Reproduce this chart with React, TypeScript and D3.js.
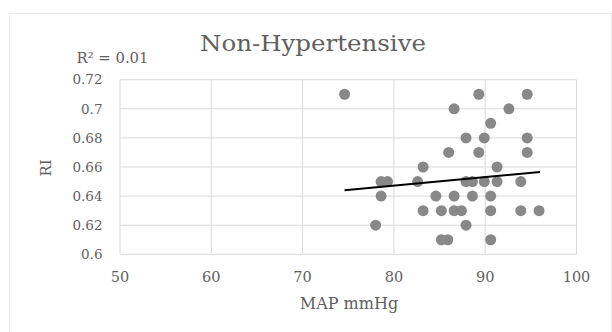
import React from "react";
import * as d3 from "d3";

const mapValues = [
  74.6, 89.3, 94.6, 86.6, 92.6, 90.6, 87.9, 89.9, 94.6, 86.0, 89.3, 94.6,
  83.2, 91.3, 78.6, 79.3, 82.6, 87.9, 88.6, 89.9, 91.3, 93.9, 78.6, 84.6,
  86.6, 88.6, 90.6, 83.2, 85.2, 86.6, 87.4, 90.6, 93.9, 95.9, 78.0, 87.9,
  85.2, 85.9, 90.6,
];
const riValues = [
  0.71, 0.71, 0.71, 0.7, 0.7, 0.69, 0.68, 0.68, 0.68, 0.67, 0.67, 0.67,
  0.66, 0.66, 0.65, 0.65, 0.65, 0.65, 0.65, 0.65, 0.65, 0.65, 0.64, 0.64,
  0.64, 0.64, 0.64, 0.63, 0.63, 0.63, 0.63, 0.63, 0.63, 0.63, 0.62, 0.62,
  0.61, 0.61, 0.61,
];
const trendX = [74.6, 96.0];
const trendY = [0.6441, 0.6566];
const xTicks = [50, 60, 70, 80, 90, 100];
const yTicks = [0.6, 0.62, 0.64, 0.66, 0.68, 0.7, 0.72];
const yTickLabels = ["0.6", "0.62", "0.64", "0.66", "0.68", "0.7", "0.72"];
const title = "Non-Hypertensive";
const rSquaredLabel = "R² = 0.01";
const xTitle = "MAP mmHg";
const yTitle = "RI";

const W = 612;
const H = 332;
const plot = { left: 120, right: 576.5, top: 79.7, bottom: 254.3 };
const serif = "'DejaVu Serif', serif";
const textColor = "#606060";

export default function App() {
  const x = d3.scaleLinear().domain([50, 100]).range([plot.left, plot.right]);
  const y = d3.scaleLinear().domain([0.6, 0.72]).range([plot.bottom, plot.top]);

  const trend: [number, number][] = trendX.map((v, i) => [v, trendY[i]]);
  const line = d3
    .line<[number, number]>()
    .x((d) => x(d[0]))
    .y((d) => y(d[1]));

  return (
    <svg
      width={W}
      height={H}
      style={{ position: "absolute", left: 0, top: 0, background: "#fff" }}
    >
      <rect x={9.5} y={13.5} width={602} height={340} fill="#fff" stroke="#ebebeb" />
      {yTicks.map((t) => (
        <line
          key={"gy" + t}
          x1={plot.left}
          x2={plot.right}
          y1={y(t)}
          y2={y(t)}
          stroke="#d9d9d9"
          strokeWidth={1}
        />
      ))}
      {xTicks.map((t) => (
        <line
          key={"gx" + t}
          x1={x(t)}
          x2={x(t)}
          y1={plot.top}
          y2={plot.bottom}
          stroke="#d9d9d9"
          strokeWidth={1}
        />
      ))}
      {mapValues.map((v, i) => (
        <circle key={i} cx={x(v)} cy={y(riValues[i])} r={5.5} fill="#888888" />
      ))}
      <path d={line(trend) || ""} stroke="#000" strokeWidth={2} fill="none" />
      {yTicks.map((t, i) => (
        <text
          key={"ty" + t}
          x={102.5}
          y={y(t)}
          dy="0.35em"
          textAnchor="end"
          fontFamily={serif}
          fontSize={13.5}
          fill={textColor}
        >
          {yTickLabels[i]}
        </text>
      ))}
      {xTicks.map((t) => (
        <text
          key={"tx" + t}
          x={x(t)}
          y={281.5}
          textAnchor="middle"
          fontFamily={serif}
          fontSize={14.5}
          fill={textColor}
        >
          {t}
        </text>
      ))}
      <text
        x={200}
        y={51}
        textLength={226}
        lengthAdjust="spacingAndGlyphs"
        fontFamily={serif}
        fontSize={22}
        fill={textColor}
      >
        {title}
      </text>
      <text
        x={76.5}
        y={63}
        textLength={72}
        lengthAdjust="spacingAndGlyphs"
        fontFamily={serif}
        fontSize={14}
        fill={textColor}
      >
        {rSquaredLabel}
      </text>
      <text
        x={349}
        y={308.5}
        textAnchor="middle"
        fontFamily={serif}
        fontSize={16}
        fill={textColor}
      >
        {xTitle}
      </text>
      <text
        transform={`translate(51,168) rotate(-90)`}
        textAnchor="middle"
        fontFamily={serif}
        fontSize={15}
        fill={textColor}
      >
        {yTitle}
      </text>
    </svg>
  );
}
